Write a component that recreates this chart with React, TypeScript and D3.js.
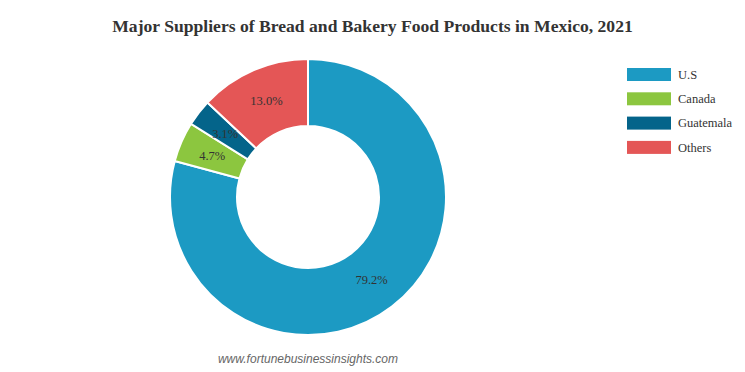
import React from "react";
import * as d3 from "d3";

const categories = ["U.S", "Canada", "Guatemala", "Others"];
const shares = [79.2, 4.7, 3.1, 13.0];
const colors = ["#1c9ac3", "#8cc63f", "#04648a", "#e45656"];

const W = 745, H = 372;
const cx = 308, cy = 197, rOuter = 138, rInner = 71;

export default function App() {
  const data = categories.map((c, i) => ({ c, v: shares[i], color: colors[i] }));
  const pie = d3.pie<any>().value((d) => d.v).sort(null);
  const arcs = pie(data);
  const arc = d3.arc<any>().innerRadius(rInner).outerRadius(rOuter);
  return (
    <svg width={W} height={H} style={{ position: "absolute", left: 0, top: 0 }}>
      <text x={372.5} y={32} textAnchor="middle" fontFamily="'Liberation Serif', serif" fontWeight="bold" fontSize={17.6} fill="#333">
        Major Suppliers of Bread and Bakery Food Products in Mexico, 2021
      </text>
      <g transform={`translate(${cx},${cy})`}>
        {arcs.map((a, i) => (
          <path key={i} d={arc(a) as string} fill={a.data.color} stroke="#fff" strokeWidth={2} />
        ))}
        {arcs.map((a, i) => {
          const [x, y] = arc.centroid(a);
          return (
            <text key={"l" + i} x={x} y={y} dy="0.35em" textAnchor="middle" fontFamily="'Liberation Serif', serif" fontSize={12.5} fill="#333">
              {a.data.v.toFixed(1)}%
            </text>
          );
        })}
      </g>
      {data.map((d, i) => (
        <g key={"lg" + i} transform={`translate(627,${68 + i * 24.3})`}>
          <rect width={44} height={13} fill={d.color} />
          <text x={51} y={6.5} dy="0.35em" fontFamily="'Liberation Serif', serif" fontSize={12.5} fill="#333">{d.c}</text>
        </g>
      ))}
      <text x={308} y={363} textAnchor="middle" fontFamily="'Liberation Sans', Arial, sans-serif" fontStyle="italic" fontSize={12} fill="#666">
        www.fortunebusinessinsights.com
      </text>
    </svg>
  );
}
